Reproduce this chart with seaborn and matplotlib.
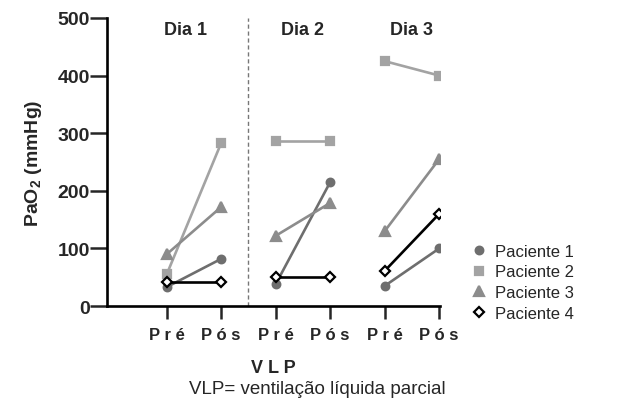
import seaborn as sns
import pandas as pd
import matplotlib.pyplot as plt
from matplotlib.lines import Line2D

# values (PaO2, mmHg), order: Dia 1 Pre/Pos, Dia 2 Pre/Pos, Dia 3 Pre/Pos
pacientes = ['Paciente 1', 'Paciente 2', 'Paciente 3', 'Paciente 4']
dias = ['Dia 1', 'Dia 2', 'Dia 3']
momentos = ['P r é', 'P ó s']
paciente1 = [33, 82, 38, 215, 35, 100]
paciente2 = [55, 283, 287, 287, 425, 400]
paciente3 = [90, 172, 122, 179, 130, 255]
paciente4 = [41, 41, 51, 51, 61, 160]
valores = [paciente1, paciente2, paciente3, paciente4]

rows = []
for p, vals in zip(pacientes, valores):
    for i, v in enumerate(vals):
        rows.append({'paciente': p, 'dia': dias[i // 2], 'pos': i + 1, 'valor': v})
df = pd.DataFrame(rows)

sns.set_style('ticks')
plt.rcParams['font.family'] = ['Liberation Sans', 'DejaVu Sans']
plt.rcParams['mathtext.fontset'] = 'custom'
plt.rcParams['mathtext.rm'] = 'Liberation Sans:bold'
plt.rcParams['mathtext.bf'] = 'Liberation Sans:bold'

estilos = {
    'Paciente 1': dict(color='#6e6e6e', marker='o', ms=5.5, mfc='#6e6e6e', mec='#6e6e6e'),
    'Paciente 2': dict(color='#a3a3a3', marker='s', ms=5.5, mfc='#a3a3a3', mec='#a3a3a3'),
    'Paciente 3': dict(color='#8c8c8c', marker='^', ms=6.5, mfc='#8c8c8c', mec='#8c8c8c'),
    'Paciente 4': dict(color='black', marker='D', ms=5.0, mfc='white', mec='black'),
}

fig = plt.figure(figsize=(6.28, 4.02), dpi=100)
ax = fig.add_axes([0.170, 0.236, 0.531, 0.717])

for p in pacientes:
    st = estilos[p]
    sns.lineplot(data=df[df.paciente == p], x='pos', y='valor', units='dia',
                 estimator=None, color=st['color'], marker=st['marker'],
                 markersize=st['ms'], markerfacecolor=st['mfc'],
                 markeredgecolor=st['mec'], markeredgewidth=1.6,
                 lw=1.9, ax=ax, legend=False)

ax.axvline(2.5, color='#777777', ls=(0, (3, 2)), lw=1)

ax.set_xlim(-0.1, 6.02)
ax.set_ylim(0, 500)
ax.set_yticks([0, 100, 200, 300, 400, 500])
ax.set_xticks([1, 2, 3, 4, 5, 6])
ax.set_xticklabels(momentos * 3, fontsize=12, fontweight='bold')
ax.set_yticklabels([str(v) for v in [0, 100, 200, 300, 400, 500]],
                   fontsize=14, fontweight='bold')
ax.set_xlabel('V L P', fontsize=13, fontweight='bold', labelpad=12)
ax.set_ylabel(r'PaO$_{2}$ (mmHg)', fontsize=14, fontweight='bold', labelpad=10)
ax.tick_params(axis='y', length=12, width=1.8, pad=0)
ax.tick_params(axis='x', length=9, width=1.8, pad=6)
sns.despine(ax=ax)
for s in ['left', 'bottom']:
    ax.spines[s].set_linewidth(1.9)
    ax.spines[s].set_color('black')

for x, d in zip([1.35, 3.5, 5.5], dias):
    ax.text(x, 480, d, ha='center', va='center', fontsize=13,
            fontweight='bold')

handles = [Line2D([], [], ls='none', marker=estilos[p]['marker'],
                  ms=estilos[p]['ms'], mfc=estilos[p]['mfc'],
                  mec=estilos[p]['mec'], mew=1.6) for p in pacientes]
fig.legend(handles, pacientes, loc='center left', bbox_to_anchor=(0.725, 0.295),
           frameon=False, fontsize=12, handletextpad=0.5, labelspacing=0.35,
           handlelength=1.0)

fig.text(0.505, 0.032, 'VLP= ventilação líquida parcial', ha='center',
         va='center', fontsize=13.5)

fig.savefig('out.png', dpi=100)
